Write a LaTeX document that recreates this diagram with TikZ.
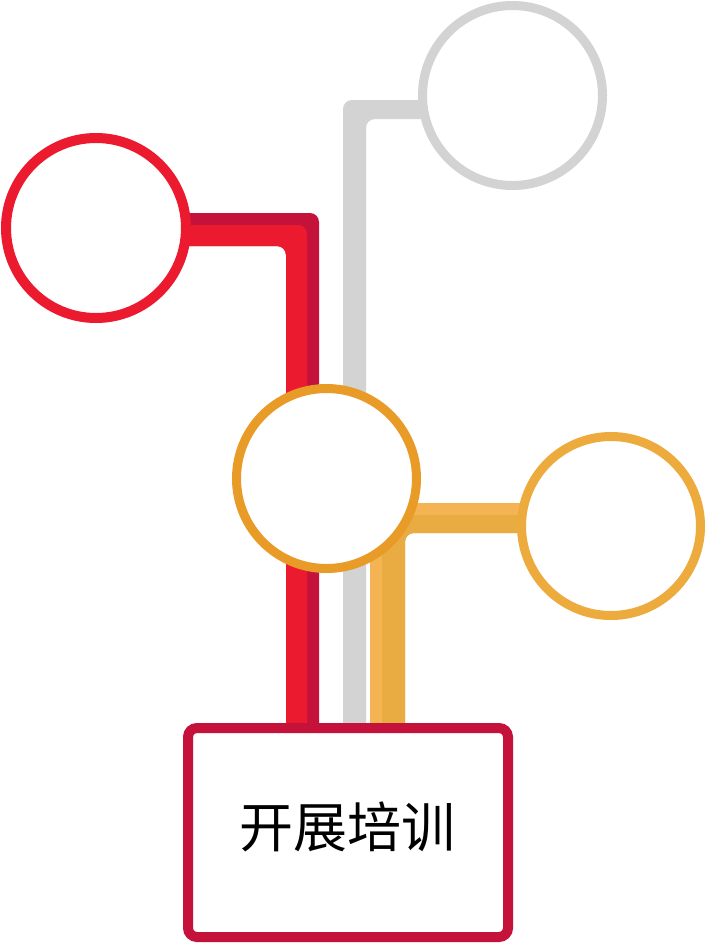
\documentclass[tikz,border=0pt]{standalone}
\usepackage{fontspec}
\newfontfamily\cjk{Noto Sans CJK SC}
\definecolor{redA}{HTML}{EC1A2E}
\definecolor{redD}{HTML}{C5123A}
\definecolor{grayP}{HTML}{D3D3D3}
\definecolor{orangeC}{HTML}{E89B26}
\definecolor{yellowC}{HTML}{EDAA3D}
\definecolor{yelL}{HTML}{F4B453}
\definecolor{yelD}{HTML}{E9AC42}
\begin{document}
\begin{tikzpicture}[x=1pt,y=-1pt,
  ring/.style={circle,fill=white,inner sep=0pt,minimum size=#1},
  pipe/.style={rounded corners=9pt},
  boxstyle/.style={rectangle,rounded corners=9pt,fill=white,draw=redD,line width=10pt,
    minimum width=320pt,minimum height=209pt,inner sep=0pt},
  labelstyle/.style={inner sep=0pt,font=\cjk\fontsize{54pt}{60pt}\selectfont}]
\useasboundingbox (0,0) rectangle (706,943);
% pipe outline points
\coordinate (gStart) at (512,100);
\coordinate (rStart) at (96,213);
\coordinate (yStart) at (611,503);
% gray pipe
\fill[grayP,pipe] (gStart) -- (343,100) -- (343,760) -- (366,760) -- (366,119) -- (512,119) -- cycle;
% red pipe
\fill[redD,pipe] (rStart) -- (319,213) -- (319,760) -- (286,760) -- (286,246) -- (96,246) -- cycle;
\fill[redA,pipe] (96,225) -- (307,225) -- (307,760) -- (286,760) -- (286,246) -- (96,246) -- cycle;
% yellow pipe
\fill[yelL,pipe] (yStart) -- (370,503) -- (370,760) -- (405,760) -- (405,533) -- (611,533) -- cycle;
\fill[yelD,pipe] (611,515) -- (382,515) -- (382,760) -- (405,760) -- (405,533) -- (611,533) -- cycle;
% circles
\node[ring=180pt,draw=grayP,line width=9pt] (gray) at (512.5,95.5) {};
\node[ring=180pt,draw=redA,line width=10pt] (red) at (96,228) {};
\node[ring=180pt,draw=orangeC,line width=9pt] (orange) at (326.5,478.5) {};
\node[ring=179pt,draw=yellowC,line width=9pt] (yellow) at (611,526) {};
% box
\node[boxstyle] (box) at (348,832.5) {};
\node[labelstyle] (boxtext) at (347,826.5) {开展培训};
\end{tikzpicture}
\end{document}
